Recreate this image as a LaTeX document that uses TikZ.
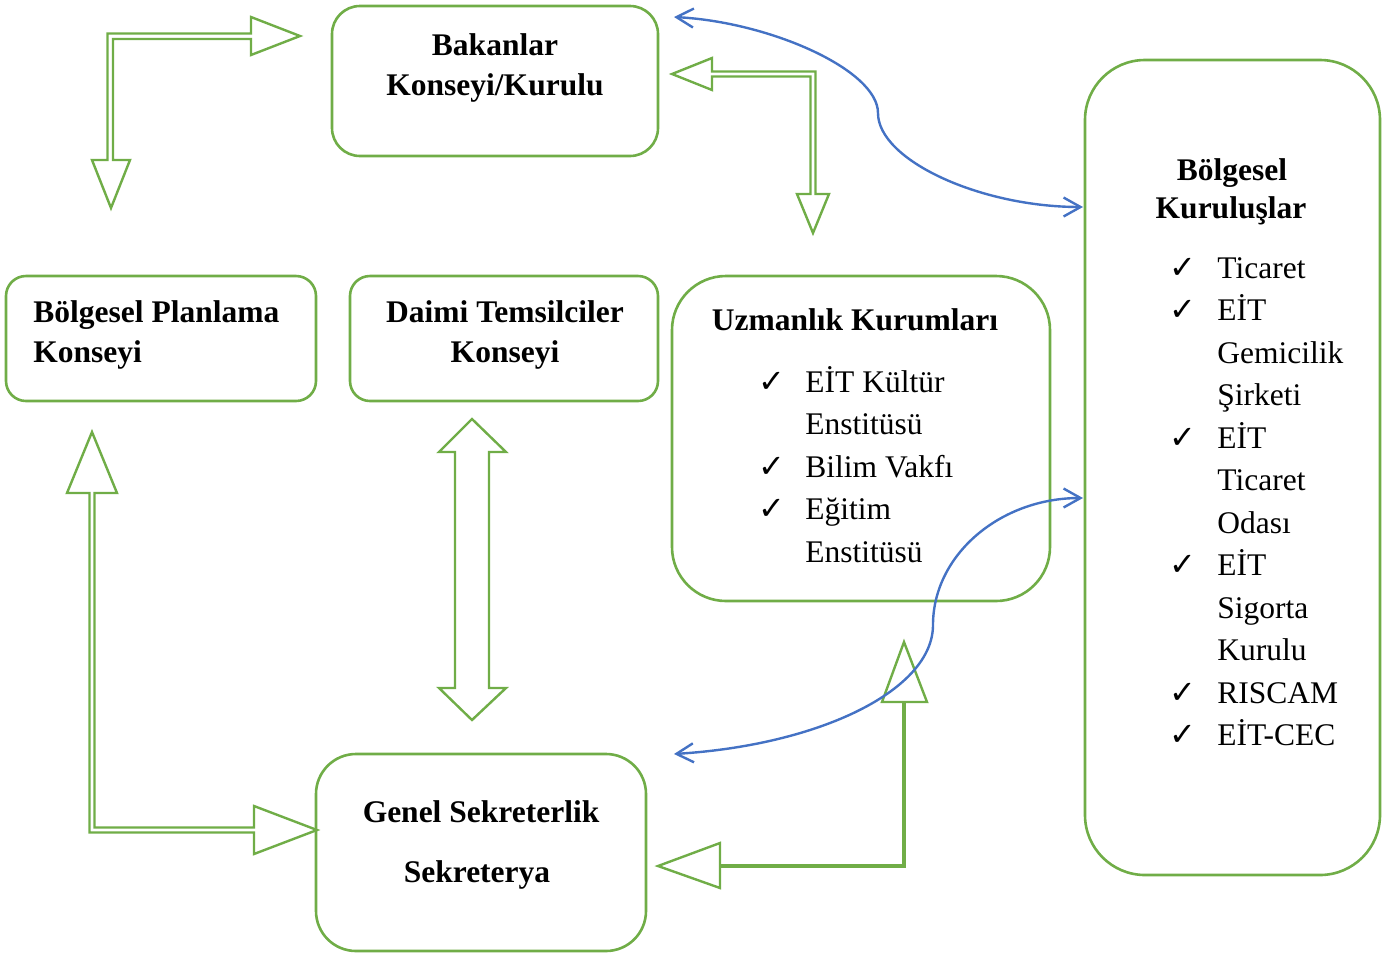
\documentclass[tikz,border=0pt]{standalone}
\usepackage{fontspec}
\setmainfont{Liberation Serif}
\newfontfamily\symfont{DejaVu Sans}
\usetikzlibrary{arrows.meta}
\definecolor{gr}{RGB}{112,173,71}
\definecolor{bl}{RGB}{68,114,196}
\begin{document}
\begin{tikzpicture}[x=0.5pt,y=-0.5pt,
  box/.style={draw=gr, line width=1.3pt, inner sep=0pt, outer sep=0pt},
  txt/.style={inner sep=0pt, anchor=base, font=\fontsize{15.75}{20}\selectfont},
  tb/.style={txt, font=\fontsize{15.75}{20}\selectfont\bfseries},
  tl/.style={txt, anchor=base west},
  tbl/.style={tb, anchor=base west},
  chk/.style={inner sep=0pt, anchor=base west, font=\symfont\fontsize{16}{18}\selectfont},
  blockarr/.style={draw=gr, line width=1.2pt, fill=white, line join=miter},
  barr/.style={draw=bl, line width=1.2pt, {Straight Barb[length=8.5pt,width=9.5pt]}-{Straight Barb[length=8.5pt,width=9.5pt]}}]
\useasboundingbox (0,0) rectangle (1389,955);

% boxes
\node[box, rounded corners=14pt, minimum width=163pt, minimum height=75pt] (bak) at (495,81) {};
\node[box, rounded corners=10pt, minimum width=155pt, minimum height=62.5pt] (bpk) at (161,338.5) {};
\node[box, rounded corners=10pt, minimum width=154pt, minimum height=62.5pt] (dtk) at (504,338.5) {};
\node[box, rounded corners=27pt, minimum width=189pt, minimum height=162.5pt] (uzm) at (861,438.5) {};
\node[box, rounded corners=30pt, minimum width=147.5pt, minimum height=407.5pt] (bkr) at (1232.5,467.5) {};
\node[box, rounded corners=20pt, minimum width=165pt, minimum height=98.5pt] (gen) at (481,852.5) {};

% titles
\node[tb] (bak1) at (495,55) {Bakanlar};
\node[tb] (bak2) at (495,95) {Konseyi/Kurulu};
\node[tbl] (bpk1) at (33,322) {Bölgesel Planlama};
\node[tbl] (bpk2) at (33,362) {Konseyi};
\node[tb] (dtk1) at (505,322) {Daimi Temsilciler};
\node[tb] (dtk2) at (505,362) {Konseyi};
\node[tb] (uzm1) at (855,330) {Uzmanlık Kurumları};
\node[tb] (bkr1) at (1232,180) {Bölgesel};
\node[tb] (bkr2) at (1231,218) {Kuruluşlar};
\node[tb] (gen1) at (481,822) {Genel Sekreterlik};
\node[tb] (gen2) at (477,882) {Sekreterya};

% Uzmanlik items
\node[chk] (uc1) at (758,392) {✓};
\node[tl] (u1) at (805,392) {EİT Kültür};
\node[tl] (u2) at (805,434.5) {Enstitüsü};
\node[chk] (uc3) at (758,477) {✓};
\node[tl] (u3) at (805,477) {Bilim Vakfı};
\node[chk] (uc4) at (758,519.5) {✓};
\node[tl] (u4) at (805,519.5) {Eğitim};
\node[tl] (u5) at (805,562) {Enstitüsü};

% Bolgesel kuruluslar items
\node[chk] (kc1) at (1169,278) {✓};
\node[tl] (k1) at (1217,278) {Ticaret};
\node[chk] (kc2) at (1169,320.5) {✓};
\node[tl] (k2) at (1217,320.5) {EİT};
\node[tl] (k3) at (1217,363) {Gemicilik};
\node[tl] (k4) at (1217,405.5) {Şirketi};
\node[chk] (kc5) at (1169,448) {✓};
\node[tl] (k5) at (1217,448) {EİT};
\node[tl] (k6) at (1217,490.5) {Ticaret};
\node[tl] (k7) at (1217,533) {Odası};
\node[chk] (kc8) at (1169,575.5) {✓};
\node[tl] (k8) at (1217,575.5) {EİT};
\node[tl] (k9) at (1217,618) {Sigorta};
\node[tl] (k10) at (1217,660.5) {Kurulu};
\node[chk] (kc11) at (1169,703) {✓};
\node[tl] (k11) at (1217,703) {RISCAM};
\node[chk] (kc12) at (1169,745.5) {✓};
\node[tl] (k12) at (1217,745.5) {EİT-CEC};

% green block arrows
\draw[blockarr] (300,36) -- (251,17) -- (251,33.5) -- (107.5,33.5) -- (107.5,160) -- (92,160)
  -- (111,208) -- (130,160) -- (113,160) -- (113,39) -- (251,39) -- (251,55) -- cycle;
\draw[blockarr] (672,74) -- (712,58) -- (712,71.5) -- (815.5,71.5) -- (815.5,194) -- (829,194)
  -- (813,233) -- (797,194) -- (810.5,194) -- (810.5,76.5) -- (712,76.5) -- (712,90) -- cycle;
\draw[blockarr] (472,419) -- (506,452) -- (489,452) -- (489,688) -- (506,688) -- (472,720)
  -- (439,688) -- (455,688) -- (455,452) -- (439,452) -- cycle;
\draw[blockarr] (92,432) -- (117,493) -- (94.5,493) -- (94.5,827.5) -- (254,827.5) -- (254,806)
  -- (317,830) -- (254,854) -- (254,832.5) -- (89.5,832.5) -- (89.5,493) -- (67,493) -- cycle;
\draw[draw=gr, line width=1.6pt] (904,702) -- (904,866) -- (720,866);
\draw[blockarr] (904,642) -- (927,702) -- (882,702) -- cycle;
\draw[blockarr] (658,866) -- (720,843) -- (720,888) -- cycle;

% blue curved arrows
\coordinate (b1s) at (674,17);
\coordinate (b1e) at (1083,207);
\coordinate (b2s) at (674,754);
\coordinate (b2e) at (1083,498);
\draw[barr] (b1s) .. controls (770,22) and (878,70) .. (878,113) .. controls (878,160) and (980,207) .. (b1e);
\draw[barr] (b2s) .. controls (820,745) and (933,690) .. (933,625) .. controls (933,555) and (1000,498) .. (b2e);
\end{tikzpicture}
\end{document}
